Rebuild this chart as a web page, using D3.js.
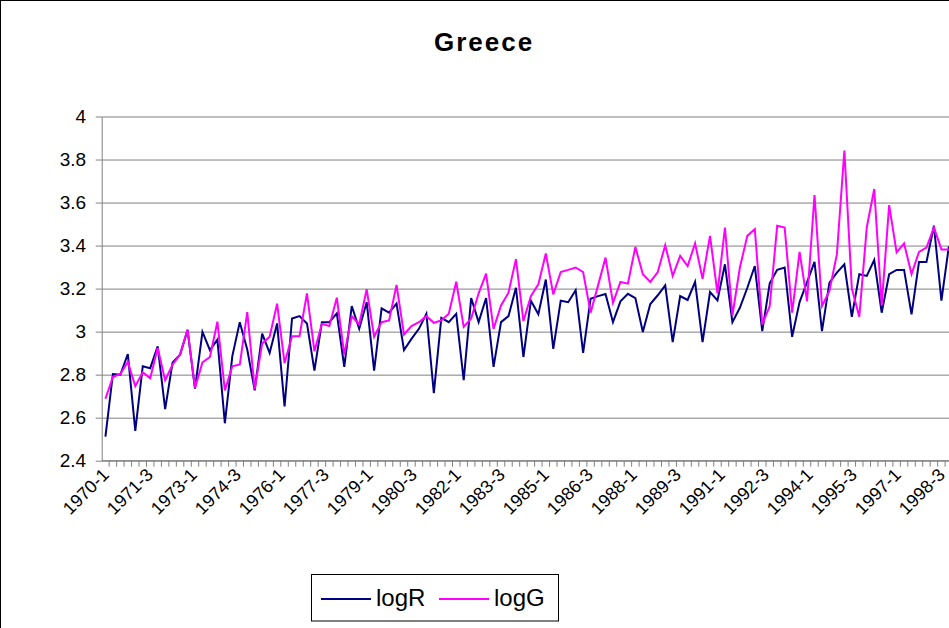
<!DOCTYPE html>
<html>
<head>
<meta charset="UTF-8">
<title>Greece</title>
<script src="https://d3js.org/d3.v7.min.js"></script>
<style>
  body { margin: 0; background: #fff; }
  svg { display: block; font-family: "Liberation Sans", Arial, sans-serif; }
  .grid line { stroke: #808080; stroke-width: 1; }
  .grid path { display: none; }
  .axis path, .axis line { stroke: #808080; }
  .axis text { font-size: 19px; fill: #000; }
  .xlabel { font-size: 18px; fill: #000; }
  .legend-text { font-size: 24px; fill: #000; }
</style>
</head>
<body>
<div id="chart"></div>
<script>
// quarters 1970-1 .. 1998-4
const years = d3.range(1970, 1999);
const quarters = [1, 2, 3, 4];
const categories = years.flatMap(y => quarters.map(q => `${y}-${q}`));

const xTickLabels = ["1970-1", "1971-3", "1973-1", "1974-3", "1976-1", "1977-3", "1979-1",
    "1980-3", "1982-1", "1983-3", "1985-1", "1986-3", "1988-1", "1989-3", "1991-1",
    "1992-3", "1994-1", "1995-3", "1997-1", "1998-3"];
const yTicks = [2.4, 2.6, 2.8, 3, 3.2, 3.4, 3.6, 3.8, 4];

const logR = [2.512, 2.803, 2.800, 2.896, 2.539, 2.839, 2.830, 2.932, 2.640, 2.857,
    2.893, 3.007, 2.735, 2.999, 2.914, 2.963, 2.574, 2.886, 3.044, 2.917,
    2.727, 2.991, 2.901, 3.038, 2.652, 3.061, 3.072, 3.038, 2.819, 3.044,
    3.044, 3.085, 2.836, 3.119, 3.013, 3.137, 2.819, 3.108, 3.088, 3.130,
    2.914, 2.966, 3.013, 3.083, 2.714, 3.064, 3.044, 3.083, 2.774, 3.156,
    3.044, 3.156, 2.836, 3.044, 3.072, 3.204, 2.882, 3.144, 3.081, 3.242,
    2.920, 3.144, 3.137, 3.193, 2.901, 3.153, 3.165, 3.175, 3.044, 3.141,
    3.176, 3.156, 2.998, 3.128, 3.169, 3.215, 2.951, 3.165, 3.147, 3.231,
    2.951, 3.184, 3.145, 3.313, 3.044, 3.111, 3.204, 3.305, 3.002, 3.225,
    3.287, 3.298, 2.976, 3.137, 3.230, 3.324, 3.002, 3.228, 3.274, 3.313,
    3.069, 3.267, 3.259, 3.333, 3.088, 3.267, 3.287, 3.287, 3.080, 3.324,
    3.324, 3.492, 3.144, 3.396];

const logG = [2.688, 2.789, 2.803, 2.859, 2.746, 2.811, 2.783, 2.924, 2.774, 2.847,
    2.893, 3.010, 2.738, 2.857, 2.882, 3.046, 2.727, 2.839, 2.847, 3.091,
    2.733, 2.945, 2.976, 3.130, 2.854, 2.979, 2.979, 3.178, 2.909, 3.036,
    3.026, 3.158, 2.893, 3.072, 3.033, 3.197, 2.976, 3.044, 3.052, 3.217,
    2.987, 3.026, 3.044, 3.072, 3.041, 3.052, 3.083, 3.232, 3.022, 3.061,
    3.178, 3.270, 3.013, 3.122, 3.181, 3.337, 3.049, 3.165, 3.220, 3.363,
    3.173, 3.277, 3.287, 3.298, 3.277, 3.088, 3.215, 3.344, 3.134, 3.231,
    3.223, 3.394, 3.267, 3.231, 3.277, 3.402, 3.259, 3.352, 3.305, 3.410,
    3.246, 3.445, 3.178, 3.484, 3.075, 3.298, 3.445, 3.477, 3.033, 3.119,
    3.492, 3.484, 3.088, 3.371, 3.142, 3.635, 3.119, 3.189, 3.360, 3.842,
    3.200, 3.069, 3.484, 3.663, 3.123, 3.588, 3.368, 3.410, 3.267, 3.371,
    3.391, 3.484, 3.382, 3.382];

const W = 949, H = 628;
const plotLeft = 101.7, plotTop = 116.5, plotBottom = 460.7;
const step = 7.464;

const svg = d3.select("#chart").append("svg")
    .attr("width", W)
    .attr("height", H);

// chart area border (only left + top fall inside the picture)
svg.append("rect")
    .attr("x", 0.5).attr("y", 0.5)
    .attr("width", W + 10).attr("height", H + 10)
    .attr("fill", "none")
    .attr("stroke", "#000");

const x = d3.scaleBand()
    .domain(categories)
    .range([plotLeft, plotLeft + categories.length * step])
    .padding(0);
const plotRight = plotLeft + categories.length * step;

// excel squeezes the rotated labels a little tighter than the categories
const labelX = d3.scaleLinear()
    .domain([0, categories.indexOf("1998-3")])
    .range([110, 946]);

const y = d3.scaleLinear()
    .domain([2.4, 4])
    .range([plotBottom, plotTop]);

// gridlines
svg.append("g")
    .attr("class", "grid")
    .attr("transform", `translate(${plotLeft},0)`)
    .call(d3.axisRight(y).tickValues(yTicks).tickSize(plotRight - plotLeft).tickFormat(""));

// Y axis
const yAxis = svg.append("g")
    .attr("class", "axis")
    .attr("transform", `translate(${plotLeft},0)`)
    .call(d3.axisLeft(y).tickValues(yTicks).tickSize(6).tickSizeOuter(0).tickPadding(9)
        .tickFormat(d3.format("~g")));
yAxis.selectAll("text")
    .attr("x", -15.5)
    .attr("text-anchor", "end");

// X axis line and tick marks between categories
const xAxis = svg.append("g").attr("class", "axis");
xAxis.append("line")
    .attr("x1", plotLeft).attr("x2", plotRight)
    .attr("y1", plotBottom).attr("y2", plotBottom);
xAxis.selectAll(".xtick")
    .data(categories)
    .enter().append("line")
    .attr("class", "xtick")
    .attr("x1", d => x(d) + step).attr("x2", d => x(d) + step)
    .attr("y1", plotBottom).attr("y2", plotBottom + 6);

svg.selectAll(".xlabel")
    .data(xTickLabels)
    .enter().append("text")
    .attr("class", "xlabel")
    .attr("text-anchor", "end")
    .attr("transform", d => `translate(${labelX(categories.indexOf(d))},476) rotate(-45)`)
    .text(d => d);

// lines
const line = d3.line()
    .x((d, i) => x(categories[i]) + x.bandwidth() / 2)
    .y(d => y(d));

svg.append("path")
    .datum(logR)
    .attr("fill", "none")
    .attr("stroke", "#000080")
    .attr("stroke-width", 2)
    .attr("d", line);

svg.append("path")
    .datum(logG)
    .attr("fill", "none")
    .attr("stroke", "#FF00FF")
    .attr("stroke-width", 2)
    .attr("d", line);

// title
svg.append("text")
    .attr("x", 484)
    .attr("y", 51)
    .attr("text-anchor", "middle")
    .style("font-size", "26px")
    .style("font-weight", "bold")
    .style("letter-spacing", "2px")
    .text("Greece");

// legend
const legend = svg.append("g");
legend.append("rect")
    .attr("x", 311.5).attr("y", 574.5)
    .attr("width", 247).attr("height", 46.5)
    .attr("fill", "#fff")
    .attr("stroke", "#000");

const series = [
    {name: "logR", color: "#000080", x0: 321},
    {name: "logG", color: "#FF00FF", x0: 439}
];
series.forEach(s => {
    legend.append("line")
        .attr("x1", s.x0).attr("x2", s.x0 + 50)
        .attr("y1", 599).attr("y2", 599)
        .attr("stroke", s.color)
        .attr("stroke-width", 2);
    legend.append("text")
        .attr("class", "legend-text")
        .attr("x", s.x0 + 55)
        .attr("y", 606)
        .text(s.name);
});
</script>
</body>
</html>
